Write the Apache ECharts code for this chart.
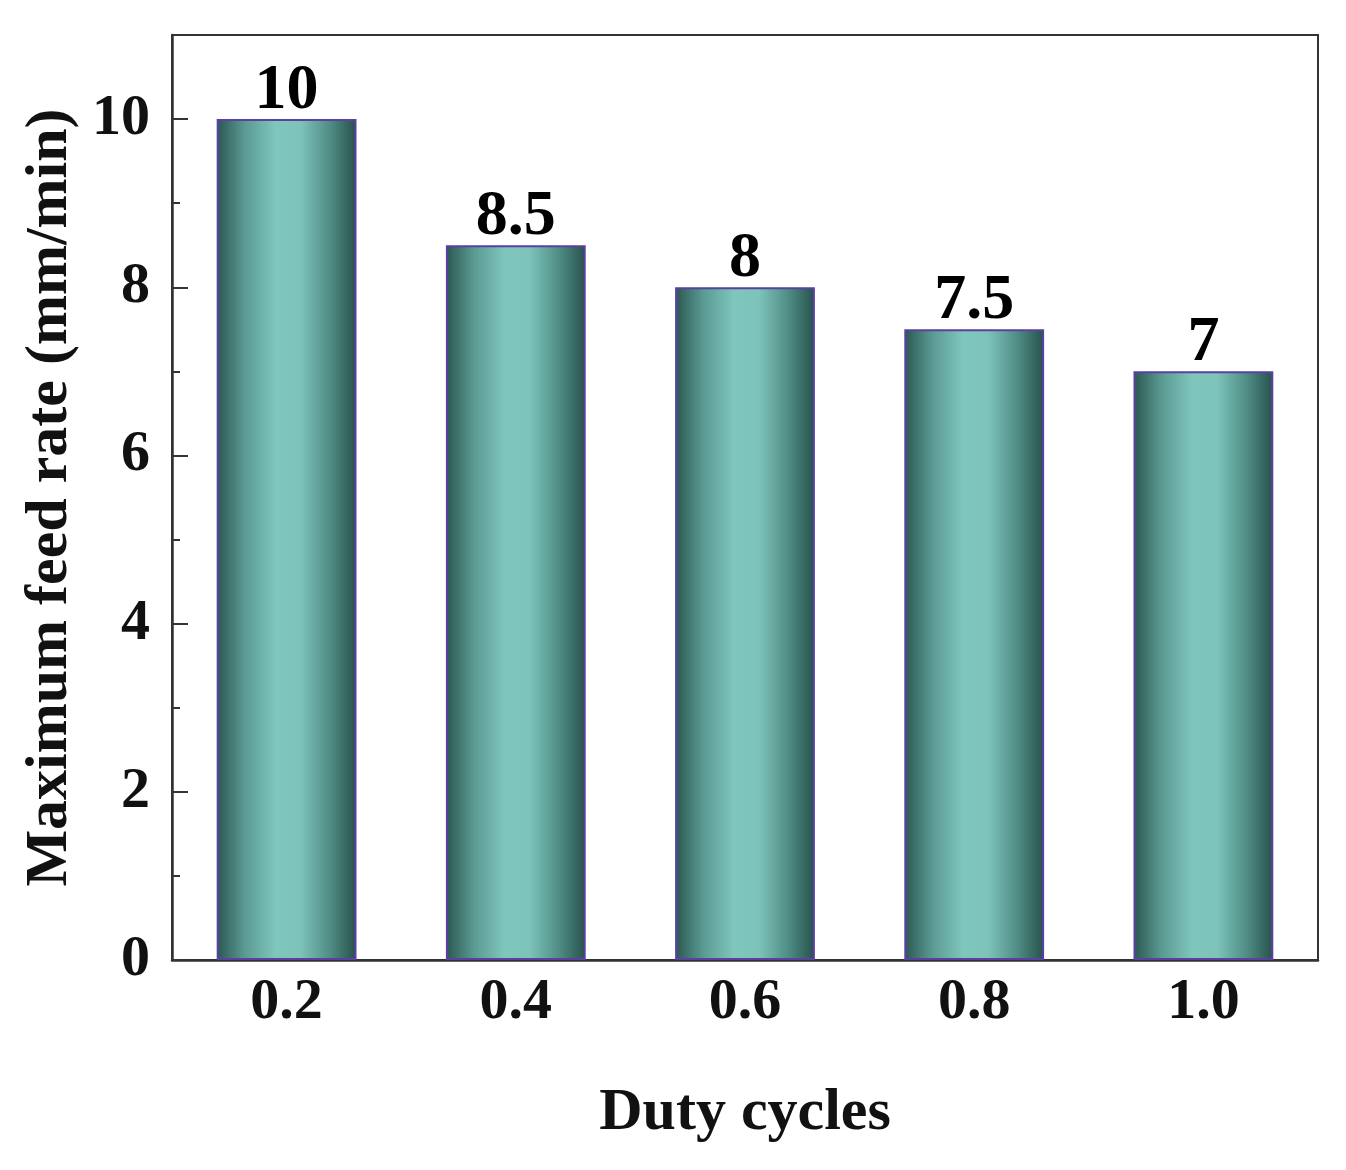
<!DOCTYPE html>
<html>
<head>
<meta charset="utf-8">
<script src="https://cdn.jsdelivr.net/npm/echarts@6/dist/echarts.min.js"></script>
<style>
  html, body { margin: 0; padding: 0; background: #fff; }
  #chart { width: 1346px; height: 1170px; }
</style>
</head>
<body>
<div id="chart"></div>
<script>
const dutyCycles = ["0.2", "0.4", "0.6", "0.8", "1.0"];
const feedRates = [10, 8.5, 8, 7.5, 7];
const yMax = 11;

const chart = echarts.init(document.getElementById("chart"), null, { renderer: "canvas" });

const font = "Liberation Serif";
const axisColor = "#333";

// cylinder look: dark edges, light middle
const barFill = new echarts.graphic.LinearGradient(0, 0, 1, 0, [
  { offset: 0, color: "#2b5651" },
  { offset: 0.2, color: "#5a9a92" },
  { offset: 0.42, color: "#7fc6bd" },
  { offset: 0.6, color: "#7dc3ba" },
  { offset: 0.82, color: "#4d8a82" },
  { offset: 1, color: "#27504b" },
]);

const option = {
  animation: false,
  backgroundColor: "#fff",
  grid: {
    left: 172,
    right: 28,
    top: 35,
    bottom: 210,
    outerBoundsMode: "none",
    containLabel: false,
    show: true,
    borderColor: axisColor,
    borderWidth: 2,
  },
  xAxis: {
    type: "category",
    data: dutyCycles,
    name: "Duty cycles",
    nameLocation: "middle",
    nameGap: 123,
    nameTextStyle: { fontFamily: font, fontWeight: "bold", fontSize: 60, color: "#111" },
    axisLine: { lineStyle: { color: axisColor, width: 2.5 } },
    axisTick: { show: false },
    axisLabel: { fontFamily: font, fontWeight: "bold", fontSize: 58, color: "#111", margin: 14 },
  },
  yAxis: [
    {
      type: "value",
      min: 0,
      max: yMax,
      interval: 2,
      name: "Maximum feed rate (mm/min)",
      nameLocation: "middle",
      nameGap: 92,
      nameTextStyle: { fontFamily: font, fontWeight: "bold", fontSize: 60, color: "#111" },
      axisLine: { show: true, lineStyle: { color: axisColor, width: 2.5 } },
      axisTick: { show: true, inside: true, length: 16, lineStyle: { color: axisColor, width: 2 } },
      axisLabel: {
        fontFamily: font,
        fontWeight: "bold",
        fontSize: 58,
        color: "#111",
        margin: 22,
        showMaxLabel: false,
        formatter: (v) => (v % 2 === 0 ? String(v) : ""),
      },
      splitLine: { show: false },
    },
    {
      type: "value",
      position: "left",
      min: 0,
      max: yMax,
      interval: 1,
      axisLine: { show: false },
      axisTick: { show: true, inside: true, length: 8, lineStyle: { color: axisColor, width: 2 } },
      axisLabel: { show: false },
      splitLine: { show: false },
    },
  ],
  series: [
    {
      type: "bar",
      data: feedRates,
      barWidth: "61%",
      itemStyle: {
        color: barFill,
        borderColor: "#5b3fa3",
        borderWidth: 2,
      },
      label: {
        show: true,
        position: "top",
        distance: -4,
        fontFamily: font,
        fontWeight: "bold",
        fontSize: 64,
        color: "#000",
      },
    },
  ],
};

chart.setOption(option);
</script>
</body>
</html>
